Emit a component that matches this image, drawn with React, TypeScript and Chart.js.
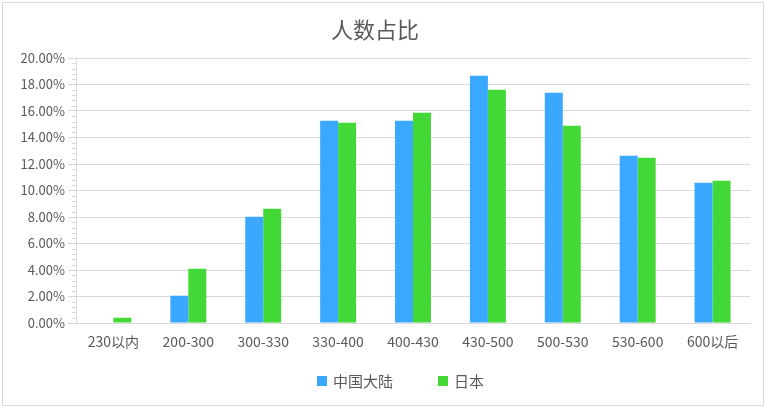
import React, { useEffect, useRef } from "react";
import { Chart, registerables } from "chart.js";

Chart.register(...registerables);

const categories = ["230以内", "200-300", "300-330", "330-400", "400-430", "430-500", "500-530", "530-600", "600以后"];
const seriesNames = ["中国大陆", "日本"];
const chinaValues = [0, 2.06, 8.02, 15.27, 15.27, 18.66, 17.38, 12.63, 10.59];
const japanValues = [0.4, 4.1, 8.63, 15.12, 15.87, 17.6, 14.89, 12.48, 10.74];
const colors = ["#3AA8FF", "#42D836"];
const titleText = "人数占比";

const FONT = "'Noto Sans CJK SC', 'Noto Sans', sans-serif";
const TEXT = "#595959";
const GRID = "#d9d9d9";

const decorPlugin = {
  id: "decor",
  afterDraw(chart: any) {
    const ctx = chart.ctx;
    const y = chart.scales.y;
    ctx.save();
    // minor ticks
    ctx.strokeStyle = GRID;
    ctx.lineWidth = 1;
    for (let i = 0; i <= 50; i++) {
      if (i % 5 === 0) continue;
      const v = i * 0.4;
      const py = Math.round(y.getPixelForValue(v)) + 0.5;
      ctx.beginPath();
      ctx.moveTo(y.right - 4, py);
      ctx.lineTo(y.right, py);
      ctx.stroke();
    }
    // outer border
    ctx.strokeRect(2.5, 2.5, 761, 403);
    // legend
    ctx.font = `15px ${FONT}`;
    ctx.textBaseline = "middle";
    ctx.textAlign = "left";
    let x = 317;
    const cy = 381;
    chart.data.datasets.forEach((ds: any) => {
      ctx.fillStyle = ds.backgroundColor;
      ctx.fillRect(x, cy - 5, 10, 10);
      ctx.fillStyle = TEXT;
      ctx.fillText(ds.label, x + 16, cy);
      x += 16 + ctx.measureText(ds.label).width + 45;
    });
    ctx.restore();
  },
};

export default function App() {
  const ref = useRef<HTMLCanvasElement>(null);
  useEffect(() => {
    if (!ref.current) return;
    const chart = new Chart(ref.current, {
      type: "bar",
      data: {
        labels: categories,
        datasets: [
          { label: seriesNames[0], data: chinaValues, backgroundColor: colors[0] },
          { label: seriesNames[1], data: japanValues, backgroundColor: colors[1] },
        ],
      },
      options: {
        animation: false,
        responsive: true,
        maintainAspectRatio: false,
        layout: { padding: { left: 0, right: 18, top: 0, bottom: 50 } },
        datasets: { bar: { categoryPercentage: 0.48, barPercentage: 1 } },
        plugins: {
          legend: { display: false },
          tooltip: { enabled: false },
          title: {
            display: true,
            text: titleText,
            color: TEXT,
            font: { family: FONT, size: 22, weight: "normal" },
            padding: { top: 16, bottom: 15.6 },
          },
        },
        scales: {
          x: {
            grid: { display: false, drawTicks: false },
            border: { color: GRID },
            ticks: { color: TEXT, font: { family: FONT, size: 14 }, padding: 10, maxRotation: 0, autoSkip: false },
            afterFit: (s: any) => { s.height = 40; },
          },
          y: {
            min: 0,
            max: 20,
            grid: { color: GRID, tickLength: 8 },
            border: { color: GRID },
            ticks: {
              stepSize: 2,
              color: TEXT,
              padding: 3,
              font: { family: FONT, size: 13 },
              callback: (v: any) => Number(v).toFixed(2) + "%",
            },
            afterFit: (s: any) => { s.width = 76; },
          },
        },
      },
      plugins: [decorPlugin],
    });
    return () => chart.destroy();
  }, []);
  return (
    <div style={{ position: "absolute", left: 0, top: 0, width: 768, height: 413, background: "#fff" }}>
      <canvas ref={ref} />
    </div>
  );
}
